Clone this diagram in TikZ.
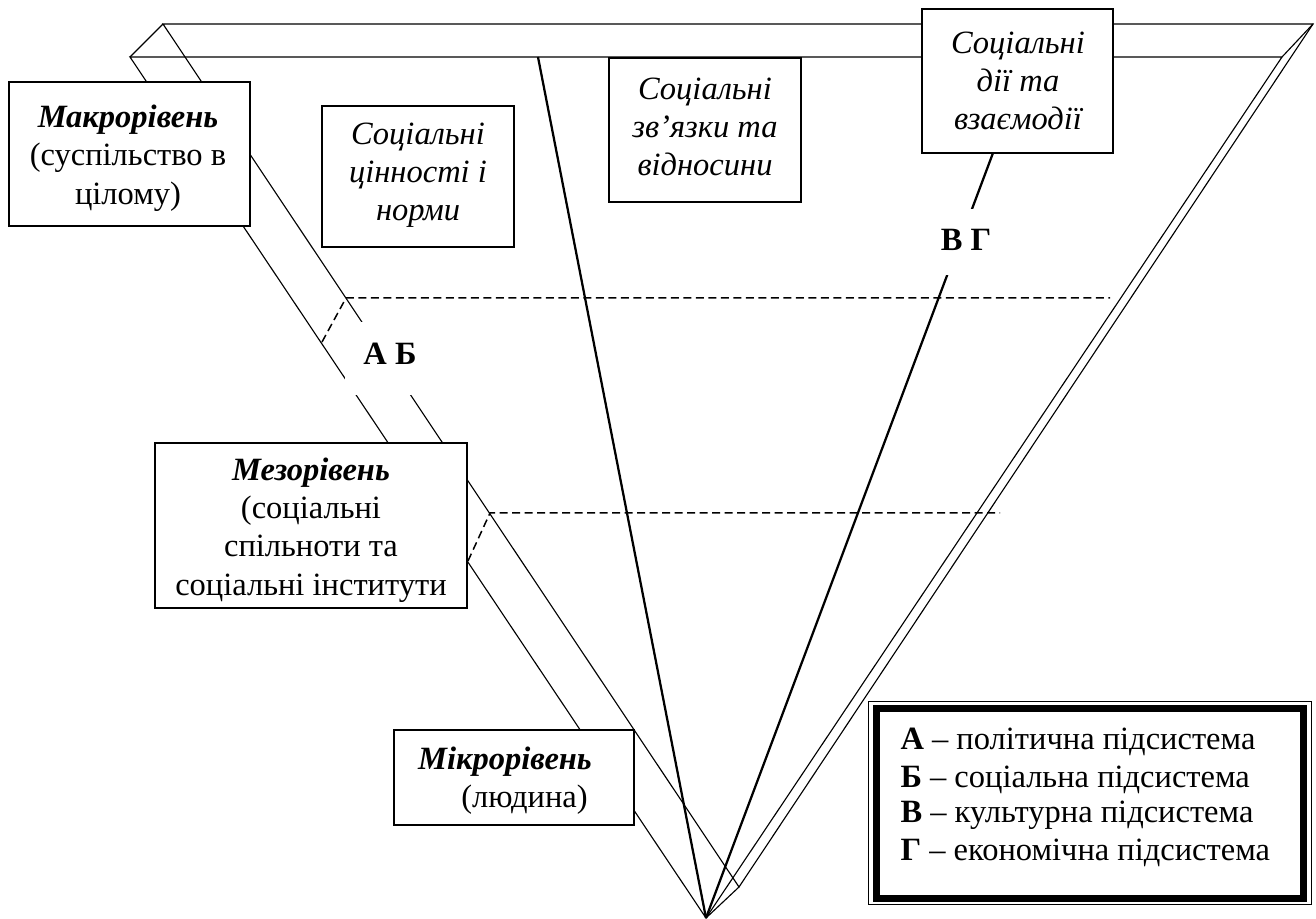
\documentclass[tikz,border=0pt]{standalone}
\usepackage{fontspec}
\setmainfont{Liberation Serif}
\usetikzlibrary{fit}
\begin{document}
\begin{tikzpicture}[x=0.4pt,y=-0.4pt,
  edge/.style={line width=0.45pt},
  thickline/.style={line width=0.9pt},
  dashline/.style={line width=0.6pt, dash pattern=on 3.2pt off 1.8pt},
  box/.style={draw, fill=white, line width=0.8pt, inner sep=0pt},
  mask/.style={fill=white, inner sep=0pt},
  txt/.style={align=center, font=\fontsize{13}{15.3}\selectfont, inner sep=0pt},
  itxt/.style={txt, font=\fontsize{13}{15.3}\selectfont\itshape},
  lbl/.style={font=\fontsize{13}{15}\selectfont\bfseries, inner sep=0pt},
  legtxt/.style={anchor=base west, font=\fontsize{13}{15}\selectfont, inner sep=0pt}]
\useasboundingbox (0,0) rectangle (1316,919);
% prism corners
\coordinate (B1) at (163,24);
\coordinate (B2) at (1313,24);
\coordinate (B3) at (739,887);
\coordinate (F1) at (130,57);
\coordinate (F2) at (1282,57);
\coordinate (F3) at (706,918);
\draw[edge] (B1) -- (B2) -- (B3) -- cycle;
\draw[edge] (F1) -- (F2) -- (F3) -- cycle;
\draw[edge] (B1) -- (F1);
\draw[edge] (B2) -- (F2);
\draw[edge] (B3) -- (F3);
% thick lines
\coordinate (T1) at (538,57);
\coordinate (T2) at (993,153);
\draw[thickline] (T1) -- (F3);
\draw[thickline] (T2) -- (F3);
% dashed sections
\coordinate (D1) at (346,298);
\coordinate (D1r) at (1110,298);
\coordinate (D1f) at (322,342);
\coordinate (D2) at (490,513);
\coordinate (D2r) at (1000,513);
\coordinate (D2f) at (468,561);
\draw[dashline] (D1f) -- (D1) -- (D1r);
\draw[dashline] (D2f) -- (D2) -- (D2r);
% labels with white masks
\node[mask, fit={(345,322) (420,395)}] (abmask) {};
\node[lbl] (ab) at (390,354) {А Б};
\node[mask, fit={(938,209) (994,275)}] (vgmask) {};
\node[lbl] (vg) at (966,240) {В Г};
% boxes
\node[box, fit={(9,82) (250,226)}] (makro) {};
\node[txt] (makrot) at (128,158) {\textbf{\itshape Макрорівень}\\(суспільство в\\цілому)};
\node[box, fit={(322,106) (514,247)}] (norms) {};
\node[itxt] (normst) at (418,175) {Соціальні\\цінності і\\норми};
\node[box, fit={(609,58) (801,202)}] (links) {};
\node[itxt] (linkst) at (705,127) {Соціальні\\зв’язки та\\відносини};
\node[box, fit={(922,9) (1113,153)}] (dii) {};
\node[itxt] (diit) at (1018,81) {Соціальні\\дії та\\взаємодії};
\node[box, fit={(155,443) (467,608)}] (mezo) {};
\node[txt] (mezot) at (311,530) {\textbf{\itshape Мезорівень}\\(соціальні\\спільноти та\\соціальні інститути};
\node[box, fit={(394,730) (634,825)}] (mikro) {};
\node[txt] (mikrot) at (505,781) {\textbf{\itshape Мікрорівень}\\\hspace*{1.2em}(людина)};
% legend
\node[draw, line width=0.4pt, inner sep=0pt, fit={(868,701) (1311,904)}] (legout) {};
\node[draw, line width=2.8pt, inner sep=0pt, fit={(876,708.5) (1303.5,898)}] (legin) {};
\node[legtxt] (lega) at (900,750) {\textbf{А} – політична підсистема};
\node[legtxt] (legb) at (900,787) {\textbf{Б} – соціальна підсистема};
\node[legtxt] (legc) at (900,823) {\textbf{В} – культурна підсистема};
\node[legtxt] (legd) at (900,860) {\textbf{Г} – економічна підсистема};
\end{tikzpicture}
\end{document}
